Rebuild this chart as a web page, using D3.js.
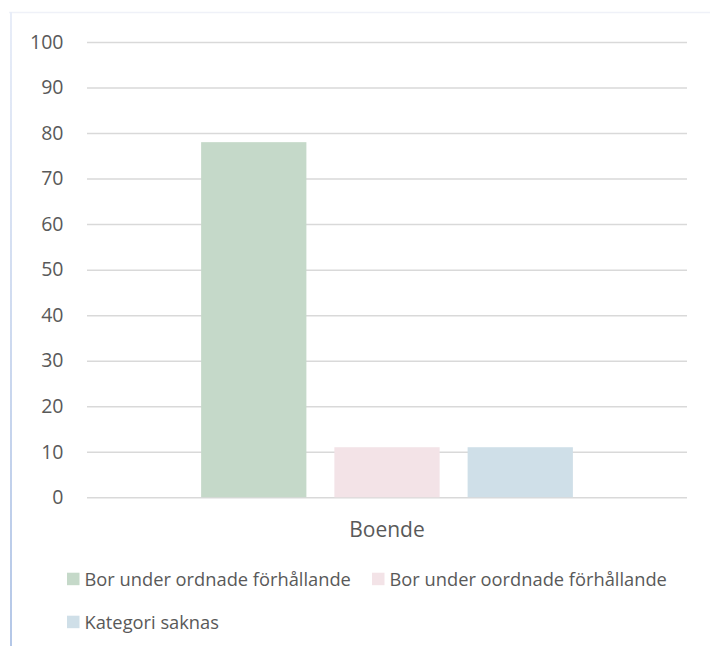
<!DOCTYPE html>
<html>
<head>
<meta charset="utf-8">
<script src="https://cdn.jsdelivr.net/npm/d3@7/dist/d3.min.js"></script>
<style>
  html, body { margin: 0; padding: 0; background: #fff; }
  svg { display: block; }
  text { font-family: "Open Sans", sans-serif; fill: #595959; }
</style>
</head>
<body>
<svg id="chart"></svg>
<script>
// ── Data ──────────────────────────────────────────────────────────────────────
const categories = ['Boende'];
const seriesNames = ['Bor under ordnade förhållande', 'Bor under oordnade förhållande', 'Kategori saknas'];
const seriesValues = [78, 11, 11];
const seriesColors = ['#c5d9c9', '#f3e3e7', '#cfdfe8'];
const yTicks = [0, 10, 20, 30, 40, 50, 60, 70, 80, 90, 100];

const W = 710, H = 646;
const svg = d3.select('#chart').attr('width', W).attr('height', H);

// ── Frame ─────────────────────────────────────────────────────────────────────
const defs = svg.append('defs');
const grad = defs.append('linearGradient').attr('id', 'edge')
    .attr('x1', 0).attr('y1', 0).attr('x2', 0).attr('y2', 1);
grad.append('stop').attr('offset', '0%').attr('stop-color', '#e8edf8');
grad.append('stop').attr('offset', '100%').attr('stop-color', '#b4c7e7');

svg.append('line')
    .attr('x1', 9).attr('x2', W).attr('y1', 12.5).attr('y2', 12.5)
    .attr('stroke', '#eff1f8').attr('stroke-width', 1.5);
svg.append('rect')
    .attr('x', 10).attr('y', 12).attr('width', 2).attr('height', H - 12)
    .attr('fill', 'url(#edge)');

// ── Scales ────────────────────────────────────────────────────────────────────
const plot = { left: 87, right: 687, top: 42, bottom: 497.3 };

const y = d3.scaleLinear().domain([0, 100]).range([plot.bottom, plot.top]);

const x0 = d3.scaleBand().domain(categories)
    .range([plot.left, plot.right]).paddingInner(0).paddingOuter(0.307);
const x1 = d3.scaleBand().domain(seriesNames)
    .range([0, x0.bandwidth()]).paddingInner(0.21).paddingOuter(0);

// ── Grid + y labels ───────────────────────────────────────────────────────────
const yAxis = svg.append('g')
    .attr('transform', `translate(${plot.left},0)`)
    .call(d3.axisLeft(y).tickValues(yTicks)
        .tickSize(-(plot.right - plot.left)).tickPadding(23.5));
yAxis.select('.domain').remove();
yAxis.selectAll('.tick line').attr('stroke', '#d9d9d9').attr('stroke-width', 1.5);
yAxis.selectAll('.tick text')
    .attr('font-family', '"Open Sans", sans-serif')
    .attr('font-size', 19.5).attr('fill', '#595959');

// ── Bars ──────────────────────────────────────────────────────────────────────
const rows = categories.map(c => ({
  cat: c,
  vals: seriesNames.map((s, i) => ({ s, v: seriesValues[i], c: seriesColors[i] }))
}));

const gCat = svg.selectAll('g.cat').data(rows).join('g')
    .attr('class', 'cat')
    .attr('transform', d => `translate(${x0(d.cat)},0)`);

gCat.selectAll('rect').data(d => d.vals).join('rect')
    .attr('x', d => x1(d.s))
    .attr('width', x1.bandwidth())
    .attr('y', d => y(d.v))
    .attr('height', d => y(0) - y(d.v))
    .attr('fill', d => d.c);

// ── Category label ────────────────────────────────────────────────────────────
svg.selectAll('text.cat-label').data(categories).join('text')
    .attr('class', 'cat-label')
    .attr('x', d => x0(d) + x0.bandwidth() / 2)
    .attr('y', 536.5)
    .attr('text-anchor', 'middle')
    .attr('font-size', 21)
    .text(d => d);

// ── Legend ────────────────────────────────────────────────────────────────────
const legendPos = [[67, 579], [372, 579], [67, 622]];
const leg = svg.append('g').selectAll('g').data(seriesNames).join('g')
    .attr('transform', (d, i) => `translate(${legendPos[i][0]},${legendPos[i][1]})`);
leg.append('rect')
    .attr('x', 0).attr('y', -6.3).attr('width', 12.5).attr('height', 12.5)
    .attr('fill', (d, i) => seriesColors[i]);
leg.append('text')
    .attr('x', 17.5).attr('y', 6.5)
    .attr('font-size', 18.3)
    .text(d => d);
</script>
</body>
</html>
